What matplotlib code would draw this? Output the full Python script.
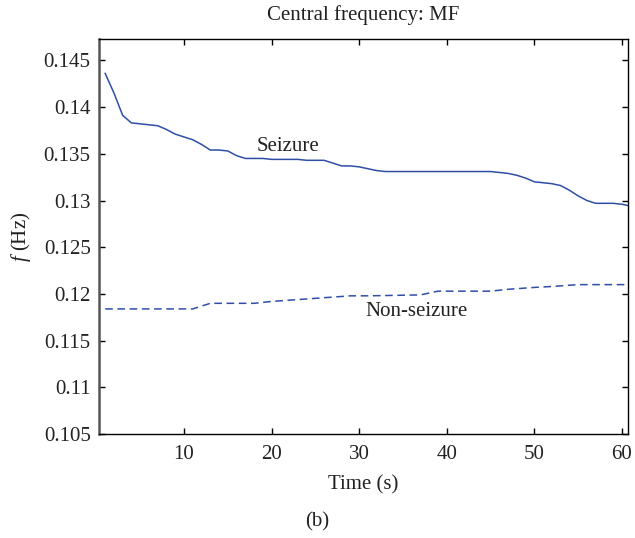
import matplotlib
matplotlib.use('Agg')
import matplotlib.pyplot as plt

# Seizure MF (Hz), one value per second
time_seizure = list(range(1, 62))
mf_seizure = [
    0.1436, 0.1415, 0.1391, 0.1383, 0.1382, 0.1381, 0.1380, 0.1376, 0.1371, 0.1368,
    0.1365, 0.1360, 0.1354, 0.1354, 0.1353, 0.1348, 0.1345, 0.1345, 0.1345, 0.1344,
    0.1344, 0.1344, 0.1344, 0.1343, 0.1343, 0.1343, 0.1340, 0.1337, 0.1337, 0.1336,
    0.1334, 0.1332, 0.1331, 0.1331, 0.1331, 0.1331, 0.1331, 0.1331, 0.1331, 0.1331,
    0.1331, 0.1331, 0.1331, 0.1331, 0.1331, 0.1330, 0.1329, 0.1327, 0.1324, 0.1320,
    0.1319, 0.1318, 0.1316, 0.1311, 0.1305, 0.1300, 0.1297, 0.1297, 0.1297, 0.1296,
    0.1294,
]

# Non-seizure MF (Hz)
time_nonseizure = [1, 11, 13, 18, 20, 23, 26, 29, 31, 37, 39, 45, 47, 50, 52, 55, 61]
mf_nonseizure = [0.1184, 0.1184, 0.1190, 0.1190, 0.1192, 0.1194, 0.1196, 0.1198,
                 0.1198, 0.1199, 0.1203, 0.1203, 0.1205, 0.1207, 0.1208, 0.1210, 0.1210]

xticks = [10, 20, 30, 40, 50, 60]
yticks = [0.105, 0.11, 0.115, 0.12, 0.125, 0.13, 0.135, 0.14, 0.145]
ytick_labels = ['0.105', '0.11', '0.115', '0.12', '0.125', '0.13', '0.135', '0.14', '0.145']

plt.rcParams['font.family'] = ['Liberation Serif', 'DejaVu Serif']
plt.rcParams['mathtext.fontset'] = 'custom'
plt.rcParams['mathtext.it'] = 'Liberation Serif:italic'
plt.rcParams['mathtext.rm'] = 'Liberation Serif'

line_color = '#2f4fa6'
text_color = '#222222'
fs = 15

fig = plt.figure(figsize=(6.35, 5.38), dpi=100)
ax = fig.add_axes([0.156, 0.193, 0.833, 0.734])

ax.plot(time_seizure, mf_seizure, color=line_color, lw=1.1)
ax.plot(time_nonseizure, mf_nonseizure, color=line_color, lw=1.1, ls=(0, (5, 3)))

ax.set_xlim(0.3, 60.7)
ax.set_ylim(0.105, 0.14725)
ax.set_xticks(xticks)
ax.set_yticks(yticks)
ax.set_yticklabels(ytick_labels)

ax.tick_params(direction='in', length=4, width=1, top=True, right=True,
               labelsize=fs, labelcolor=text_color)
ax.tick_params(axis='x', pad=8)
ax.tick_params(axis='y', pad=6)
for side in ['top', 'right', 'bottom']:
    ax.spines[side].set_color('black')
    ax.spines[side].set_linewidth(1.0)
ax.spines['left'].set_color('#555555')
ax.spines['left'].set_linewidth(1.8)

ax.text(21.9, 0.1358, 'Seizure', fontsize=fs, color=text_color, ha='center', va='center')
ax.text(36.55, 0.1181, 'Non-seizure', fontsize=fs, color=text_color, ha='center', va='center')

ax.set_title('Central frequency: MF', fontsize=fs, color=text_color, pad=14)
ax.set_xlabel('Time (s)', fontsize=fs, color=text_color, labelpad=8)
ax.set_ylabel(r'$f$ (Hz)', fontsize=fs, color=text_color, labelpad=8)

fig.text(0.5, 0.03, '(b)', fontsize=fs, color=text_color, ha='center', va='center')

fig.savefig('out.png', dpi=100)
